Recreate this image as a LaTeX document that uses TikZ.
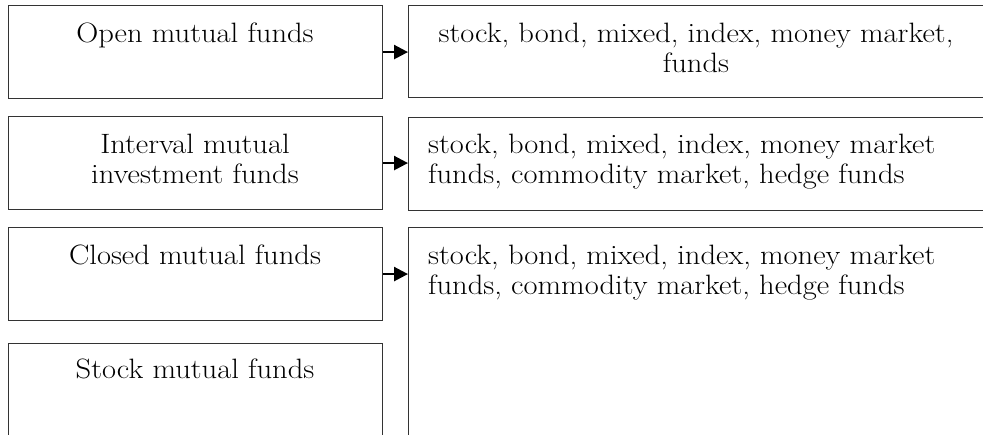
\documentclass[tikz,border=0pt]{standalone}
\usetikzlibrary{arrows.meta,calc}
\begin{document}
\begin{tikzpicture}[x=1pt,y=-1pt,
  box/.style={draw=black!80, line width=1.1pt, inner sep=0pt, minimum width=374pt, anchor=north west},
  rbox/.style={draw=black!80, line width=1.1pt, inner sep=0pt, minimum width=580pt, anchor=north west},
  lbl/.style={font=\fontsize{28}{30}\selectfont, inner sep=0pt, align=center, xscale=1.09, transform shape},
  arr/.style={line width=2.5pt, -{Triangle[length=14pt,width=14pt]}}]
\useasboundingbox (0,0) rectangle (983,434);
\clip (0,0) rectangle (983,434);
% left boxes
\node[box, minimum height=93pt] (L1) at (8,5) {};
\node[box, minimum height=93pt] (L2) at (8,116) {};
\node[box, minimum height=93pt] (L3) at (8,227) {};
\node[box, minimum height=100pt] (L4) at (8,343) {};
% right boxes
\node[rbox, minimum height=92pt] (R1) at (408,5) {};
\node[rbox, minimum height=93pt] (R2) at (408,117) {};
\node[rbox, minimum height=220pt] (R3) at (408,227) {};
% texts
\node[lbl, anchor=base] (t1) at (195,42) {Open mutual funds};
\node[lbl, anchor=north] (t2) at (195,133.6) {Interval mutual\\investment funds};
\node[lbl, anchor=base] (t3) at (195,264) {Closed mutual funds};
\node[lbl, anchor=base] (t4) at (195,378) {Stock mutual funds};
\node[lbl, anchor=north] (u1) at (696,22.6) {stock, bond, mixed, index, money market,\\funds};
\node[lbl, anchor=north west, align=left] (u2) at (428,133.6) {stock, bond, mixed, index, money market\\funds, commodity market, hedge funds};
\node[lbl, anchor=north west, align=left] (u3) at (428,244.6) {stock, bond, mixed, index, money market\\funds, commodity market, hedge funds};
% arrows
\draw[arr] (L1.east) -- (L1.east -| R1.west);
\draw[arr] (L2.east) -- (L2.east -| R2.west);
\draw[arr] (L3.east) -- (L3.east -| R3.west);
\end{tikzpicture}
\end{document}
